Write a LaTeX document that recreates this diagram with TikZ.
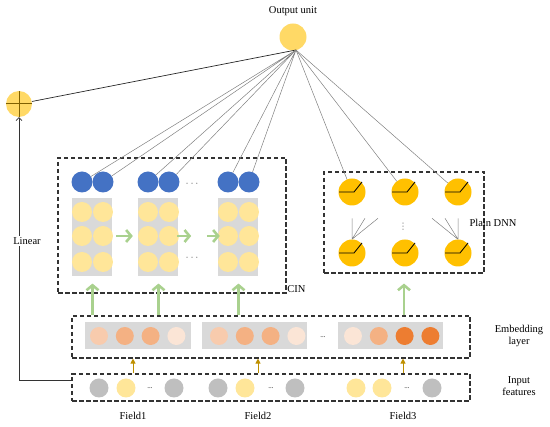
\documentclass[tikz,border=0pt]{standalone}
\usepackage{fontspec}
\setmainfont{Liberation Serif}
\newfontfamily\symfont{DejaVu Sans}
\usepackage{amsmath}
\usetikzlibrary{arrows.meta, positioning, calc}

\definecolor{sunY}{HTML}{FFD966}
\definecolor{paleY}{HTML}{FFE699}
\definecolor{deepY}{HTML}{FFC000}
\definecolor{bluU}{HTML}{4472C4}
\definecolor{cellG}{HTML}{D9D9D9}
\definecolor{inG}{HTML}{BFBFBF}
\definecolor{grnA}{HTML}{A9D18E}
\definecolor{goldA}{HTML}{BF9000}
\definecolor{olv}{HTML}{7F6000}
\definecolor{embA}{HTML}{FBE5D6}
\definecolor{embB}{HTML}{F8CBAD}
\definecolor{embC}{HTML}{F4B183}
\definecolor{embD}{HTML}{ED7D31}

\begin{document}
\begin{tikzpicture}[x=1pt, y=-1pt, >=Stealth,
  every node/.style={font=\fontsize{10.5}{12.5}\selectfont},
  unit/.style={circle, inner sep=0pt, minimum size=#1},
  layerbox/.style={draw=black!80, line width=1.1pt, dash pattern=on 4.5pt off 2.5pt, inner sep=0pt},
  wire/.style={draw=black!50, line width=0.5pt},
  greenarrow/.style={draw=grnA, line width=2.6pt, -{Straight Barb[length=5pt, width=12pt]}},
  feed/.style={draw=goldA, line width=1pt, -{Triangle[length=5pt, width=5pt]}},
  relu/.style={draw=black, line width=0.8pt},
  dotsnode/.style={font=\fontsize{7}{8}\selectfont, inner sep=0pt}]
  \useasboundingbox (0,0) rectangle (550,427);

  % Layer frames
  \node[layerbox, minimum width=228pt, minimum height=135pt] (cin) at (172,225.5) {};
  \node[layerbox, minimum width=160pt, minimum height=101pt] (dnn) at (404,222.5) {};
  \node[layerbox, minimum width=398pt, minimum height=42pt] (emb) at (271,337) {};
  \node[layerbox, minimum width=398pt, minimum height=27pt] (inp) at (271,387.5) {};
  \node[anchor=south west, inner sep=0.5pt] (cinlab) at (cin.south east) {CIN};
  \node (dnnlab) at (493,223) {Plain DNN};
  \node[align=center] (emblab) at (519,336) {Embedding\\layer};
  \node[align=center] (inplab) at (519,386) {Input\\features};

  % Output and sum units
  \node[unit=27pt, fill=sunY] (out) at (293,37) {};
  \node (outlab) at (293,11) {Output unit};
  \coordinate (hub) at (296,50);
  \node[unit=26pt, fill=sunY] (plus) at (19,104) {};
  \draw[olv, line width=1pt] (plus.north) -- (plus.south) (plus.west) -- (plus.east);
  \draw[black!85, line width=0.7pt] (plus) -- (hub);

  % CIN feature maps
  \foreach \c/\xa/\xb in {1/82/103, 2/148/169, 3/228/249} {
    \fill[cellG] (\xa-10,198) rectangle (\xb+9,276);
    \foreach \r/\y in {1/212, 2/236, 3/262} {
      \node[unit=20pt, fill=paleY] (yl\c\r) at (\xa,\y) {};
      \node[unit=20pt, fill=paleY] (yr\c\r) at (\xb,\y) {};
    }
    \node[unit=21pt, fill=bluU] (bl\c) at (\xa,182) {};
    \node[unit=21pt, fill=bluU] (br\c) at (\xb,182) {};
    \draw[wire] (hub) -- (bl\c) (hub) -- (br\c);
    \coordinate (m\c) at ($(yl\c3)!0.5!(yr\c3)$);
    \draw[greenarrow] (emb.north -| m\c) -- ([yshift=10pt]cin.south -| m\c);
  }
  \draw[greenarrow] ([xshift=3pt]yr12.east) -- ([xshift=-5pt]yl22.west);
  \draw[greenarrow] ([xshift=-2pt]yr22.east) -- ++(14,0);
  \draw[greenarrow] ([xshift=-11pt]yl32.west) -- ([xshift=2pt]yl32.west);
  \node[inner sep=0pt, text=black!60] (cd1) at (193,184) {$\cdots$};
  \node[inner sep=0pt, text=black!60] (cd2) at (193,258) {$\cdots$};

  % Plain DNN
  \foreach \c/\x in {1/352, 2/405, 3/458} {
    \node[unit=27pt, fill=deepY] (dt\c) at (\x,192) {};
    \node[unit=27pt, fill=deepY] (db\c) at (\x,253) {};
    \draw[wire] (hub) -- (dt\c);
  }
  \foreach \u in {dt1,dt2,dt3,db1,db2,db3}
    \draw[relu] ([xshift=-13pt]\u.center) -- ++(15,0) -- ++(8,-10);
  \draw[wire] (db1.north) -- ++(0,-21) (db1.north) -- ++(13,-21) (db1.north) -- ++(26,-21);
  \draw[wire] (db3.north) -- ++(0,-21) (db3.north) -- ++(-13,-21) (db3.north) -- ++(-26,-21);
  \node[inner sep=0pt, text=black!50, font=\symfont\fontsize{9}{10}\selectfont] (vd) at (403,227) {⋮};
  \draw[greenarrow] (emb.north -| dnn) -- ([yshift=-10pt]dnn.south);

  % Embedding layer
  \foreach \g/\xl/\xr/\ca/\cb/\cc/\cd/\xa in {1/85/191/embB/embC/embC/embA/99,
      2/202/307/embB/embC/embC/embA/219, 3/338/443/embA/embC/embD/embD/353} {
    \fill[cellG] (\xl,322) rectangle (\xr,349);
    \foreach \k/\col in {0/\ca, 1/\cb, 2/\cc, 3/\cd}
      \node[unit=18pt, fill=\col] (e\g\k) at (\xa+25.8*\k,336) {};
  }
  \node[dotsnode] (edots) at (323,337) {...};

  % Input features
  \foreach \n/\x/\col in {1/99/inG, 2/126/paleY, 3/174/inG, 4/218/inG, 5/245/paleY,
      6/295/inG, 7/356/paleY, 8/382/paleY, 9/432/inG}
    \node[unit=19pt, fill=\col] (i\n) at (\x,388) {};
  \foreach \n/\x in {1/150, 2/271, 3/407}
    \node[dotsnode] (idots\n) at (\x,388) {...};
  \foreach \n/\x in {1/133, 2/258, 3/403} {
    \node (f\n) at (\x,416) {Field\n};
    \draw[feed] (inp.north -| f\n) -- (emb.south -| f\n);
  }

  % Linear part
  \draw[black!80, line width=0.7pt, -{Straight Barb[length=3pt]}] ([yshift=7.5pt]inp.west) -| (plus.south);
  \node[fill=white, inner sep=1pt] (linlab) at (27,241) {Linear};
\end{tikzpicture}
\end{document}
